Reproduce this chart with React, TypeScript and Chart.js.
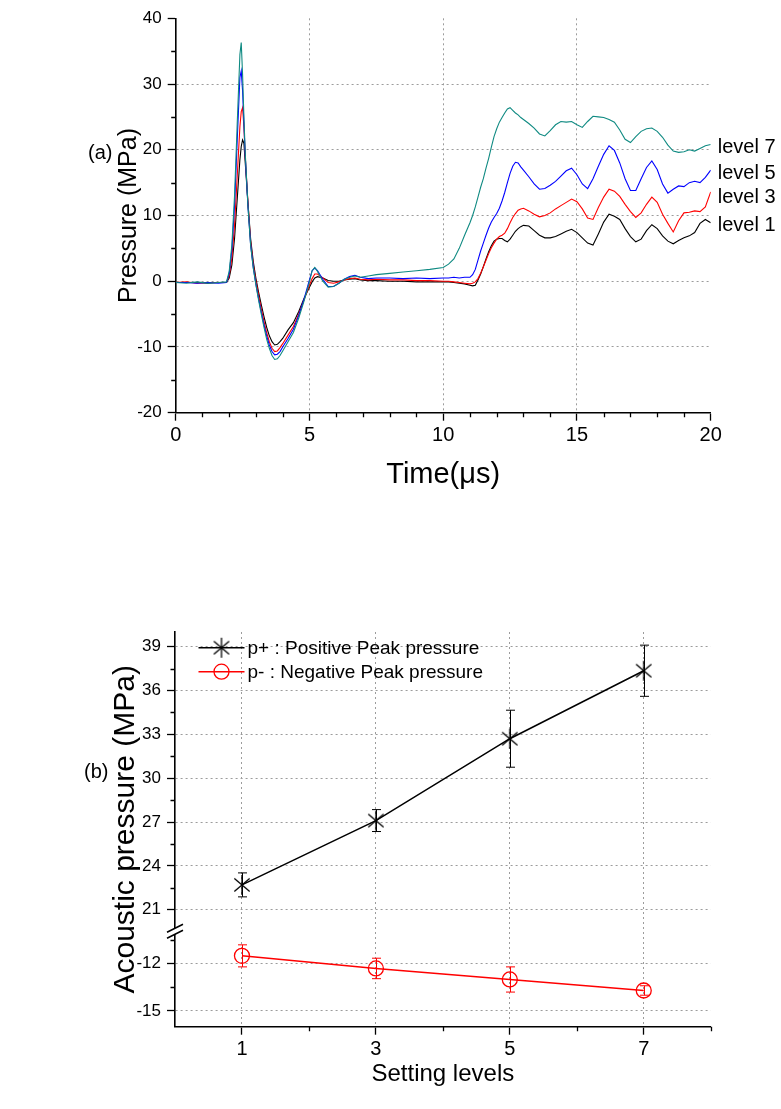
import React, { useEffect, useRef } from 'react';
import { Chart, registerables } from 'chart.js';

Chart.register(...registerables);

const FONT = "'Liberation Sans', Arial, Helvetica, sans-serif";
const GRID = '#9c9c9c';
const GRID_DASH = [2, 3];
const TEAL = '#0f8a82';

// ---------------- Panel (a): pressure waveforms ----------------
const timeUs = [
  0, 0.4, 0.8, 1.2, 1.6, 1.9,
  2.0, 2.1, 2.2, 2.3, 2.4, 2.45, 2.5, 2.55, 2.6, 2.7, 2.8, 2.9, 3.0, 3.1, 3.2, 3.3, 3.4, 3.5, 3.6, 3.7, 3.8, 3.9, 4.0,
  4.2, 4.4, 4.6, 4.8, 5.0, 5.1, 5.2, 5.3, 5.5, 5.7, 5.9, 6.1, 6.3, 6.5, 6.7, 6.9, 7.2, 7.5,
  8.0, 8.5, 9.0, 9.5, 10.0,
  10.2, 10.4, 10.6, 10.8, 11.0, 11.1, 11.2, 11.3, 11.4, 11.5, 11.6, 11.7, 11.8, 11.9, 12.0, 12.1, 12.2, 12.3, 12.4, 12.5,
  12.6, 12.7, 12.8, 12.9, 13.0,
  13.2, 13.4, 13.6, 13.8, 14.0, 14.2, 14.4, 14.6, 14.8, 15.0, 15.2, 15.4, 15.6, 15.8, 16.0, 16.2, 16.4, 16.6, 16.8, 17.0,
  17.2, 17.4, 17.6, 17.8, 18.0, 18.2, 18.4, 18.6, 18.8, 19.0, 19.2, 19.4, 19.6, 19.8, 20.0,
];

const level7 = [
  -0.2, -0.3, -0.1, -0.3, -0.2, -0.1,
  1.5, 5.5, 13.0, 24.0, 34.5, 36.3, 31.5, 25.0, 19.5, 11.5, 5.5, 2.0, -0.6, -2.9, -5.0, -7.0, -8.8, -10.2, -11.3, -11.9, -11.8, -11.3, -10.6,
  -9.2, -7.8, -5.6, -3.0, -0.1, 1.6, 2.1, 1.5, 0.0, -0.9, -0.8, -0.3, 0.3, 0.6, 0.8, 0.6, 0.8, 1.0,
  1.2, 1.4, 1.6, 1.8, 2.1,
  2.6, 3.4, 5.0, 7.0, 8.9, 10.0, 11.3, 12.8, 14.3, 15.6, 17.2, 18.7, 20.4, 22.0, 23.2, 24.2, 24.9, 25.6, 26.2, 26.4,
  26.0, 25.6, 25.3, 24.9, 24.6,
  24.0, 23.3, 22.4, 22.1, 22.9, 23.8, 24.3, 24.2, 24.3, 23.8, 23.4, 24.3, 25.1, 25.0, 24.9, 24.6, 24.2, 23.0, 21.6, 21.1,
  22.0, 22.8, 23.2, 23.3, 22.8, 21.9, 20.7, 19.8, 19.6, 19.7, 20.0, 19.8, 20.2, 20.6, 20.8,
];

const level5 = [
  -0.2, -0.2, -0.3, -0.2, -0.3, -0.2,
  1.2, 4.8, 11.5, 21.5, 31.0, 32.0, 29.0, 24.0, 19.0, 11.5, 5.6, 2.1, -0.5, -2.7, -4.7, -6.6, -8.3, -9.7, -10.7, -11.2, -11.1, -10.7, -10.0,
  -8.7, -7.3, -5.2, -2.7, 0.2, 1.6, 2.0, 1.6, 0.3, -0.8, -0.8, -0.3, 0.3, 0.7, 0.9, 0.6, 0.4, 0.5,
  0.5, 0.4, 0.5, 0.4, 0.5,
  0.5, 0.6, 0.5, 0.6, 0.6, 1.0, 1.8, 3.2, 4.6, 5.8, 7.0, 8.1, 9.0, 9.7, 10.3, 11.1, 12.2, 13.5, 15.0, 16.4,
  17.5, 18.1, 18.0, 17.4, 16.9,
  15.9, 14.8, 14.0, 14.1, 14.6, 15.2, 16.0, 16.8, 17.2, 16.2, 14.8, 14.1, 15.6, 17.5, 19.3, 20.6, 19.9, 18.0, 15.6, 13.8,
  13.8, 15.6, 17.3, 18.3, 17.0, 14.8, 13.4, 14.0, 14.5, 14.4, 15.0, 15.2, 15.0, 15.8, 16.9,
];

const level3 = [
  -0.2, -0.1, -0.3, -0.2, -0.2, -0.2,
  0.8, 3.5, 8.5, 16.0, 23.5, 25.8, 26.4, 23.5, 19.0, 12.0, 6.0, 2.5, 0.0, -2.2, -4.2, -6.1, -7.8, -9.2, -10.2, -10.7, -10.6, -10.1, -9.5,
  -8.2, -6.9, -5.0, -2.8, -0.6, 0.4, 1.1, 1.1, 0.5, -0.2, -0.3, -0.1, 0.2, 0.4, 0.5, 0.3, 0.2, 0.3,
  0.2, 0.2, 0.1, 0.1, 0.0,
  0.0, -0.1, -0.2, -0.3, -0.4, -0.3, -0.1, 0.4, 1.2, 2.2, 3.2, 4.2, 5.1, 5.8, 6.4, 6.8, 7.0, 7.3, 8.0, 8.9,
  9.7, 10.3, 10.8, 11.0, 11.1,
  10.7, 10.2, 9.8, 10.0, 10.4, 11.0, 11.5, 12.0, 12.5, 12.1, 11.0, 9.6, 9.4, 11.2, 12.8, 14.0, 13.7, 12.9, 11.7, 10.6,
  9.7, 10.4, 11.7, 12.8, 12.0, 10.2, 8.8, 7.5, 9.2, 10.4, 10.5, 10.7, 10.6, 11.3, 13.6,
];

const level1 = [
  -0.2, -0.2, -0.2, -0.3, -0.2, -0.2,
  0.5, 2.5, 6.5, 12.5, 18.5, 20.5, 21.5, 21.0, 18.0, 12.0, 6.5, 3.0, 0.4, -1.7, -3.6, -5.4, -7.0, -8.3, -9.2, -9.7, -9.6, -9.2, -8.7,
  -7.4, -6.3, -4.6, -2.6, -0.9, -0.1, 0.5, 0.7, 0.5, 0.1, 0.0, 0.0, 0.2, 0.3, 0.4, 0.2, 0.1, 0.1,
  0.0, 0.0, -0.1, -0.1, -0.1,
  -0.1, -0.2, -0.3, -0.4, -0.6, -0.7, -0.6, 0.2, 1.1, 2.2, 3.4, 4.5, 5.4, 6.1, 6.4, 6.5, 6.5, 6.2, 6.0, 6.4,
  7.0, 7.6, 8.0, 8.3, 8.5,
  8.4, 7.7, 7.0, 6.6, 6.6, 6.8, 7.2, 7.6, 7.9, 7.4, 6.6, 5.8, 5.5, 7.2, 9.0, 10.2, 9.9, 9.4, 8.0, 6.8,
  6.0, 6.4, 7.7, 8.6, 8.0, 6.9, 6.1, 5.7, 6.2, 6.6, 6.9, 7.4, 8.8, 9.4, 8.9,
];

const levelNames = ['level 7', 'level 5', 'level 3', 'level 1'];
const levelLabelAnchor = [20.3, 16.4, 12.8, 8.5]; // MPa where each end label sits
const timeTicks = [0, 5, 10, 15, 20];
const timeMinorTicks = [1, 2, 3, 4, 6, 7, 8, 9, 11, 12, 13, 14, 16, 17, 18, 19];
const pressureTicks = [-20, -10, 0, 10, 20, 30, 40];
const pressureMinorTicks = [-15, -5, 5, 15, 25, 35];

// ---------------- Panel (b): peak pressures ----------------
const settingLevels = [1, 3, 5, 7];
const positivePeak = [22.7, 27.1, 32.7, 37.35];
const positiveErr = [0.82, 0.75, 1.95, 1.75];
const negativePeak = [-11.5, -12.3, -13.0, -13.7];
const negativeErr = [0.7, 0.65, 0.8, 0.3];
const levelTicks = [1, 3, 5, 7];
const levelMinorTicks = [2, 4, 6, 8];
const upperTicks = [21, 24, 27, 30, 33, 36, 39];
const upperMinorTicks = [22.5, 25.5, 28.5, 31.5, 34.5, 37.5];
const lowerTicks = [-15, -12];
const lowerMinorTicks = [-13.5, -10.5];

// broken-axis mapping (lower segment -16..-10, upper segment 19.6..40)
const LOWER_MIN = -16;
const LOWER_MAX = -10;
const LOWER_STRETCH = 1.077;
const UPPER_MIN = 19.6;
const UPPER_MAX = 40;
const BREAK_GAP = 0.14;
const LOWER_SPAN = (LOWER_MAX - LOWER_MIN) * LOWER_STRETCH;
const toAxis = (v: number) =>
  v < 0 ? (v - LOWER_MIN) * LOWER_STRETCH : LOWER_SPAN + BREAK_GAP + (v - UPPER_MIN);
const AXIS_MAX = toAxis(UPPER_MAX);
const BREAK_AT = LOWER_SPAN + BREAK_GAP / 2;

const yTickDefs = [
  ...lowerTicks.map((v) => ({ d: toAxis(v), label: String(v) })),
  ...upperTicks.map((v) => ({ d: toAxis(v), label: String(v) })),
];

function minorTickPlugin(xs: number[], ys: number[], len: number) {
  return {
    id: 'minorTicks',
    afterDraw(chart: any) {
      const { ctx, chartArea } = chart;
      const sx = chart.scales.x;
      const sy = chart.scales.y;
      ctx.save();
      ctx.strokeStyle = '#000';
      ctx.lineWidth = 1.3;
      ctx.beginPath();
      for (const v of xs) {
        const px = Math.round(sx.getPixelForValue(v)) + 0.5;
        ctx.moveTo(px, chartArea.bottom);
        ctx.lineTo(px, chartArea.bottom + len);
      }
      for (const v of ys) {
        const py = Math.round(sy.getPixelForValue(v)) + 0.5;
        ctx.moveTo(chartArea.left, py);
        ctx.lineTo(chartArea.left - len, py);
      }
      ctx.stroke();
      ctx.restore();
    },
  };
}

function makeAsterisk(color: string) {
  const size = 24;
  const c = document.createElement('canvas');
  c.width = size;
  c.height = size;
  const g = c.getContext('2d')!;
  g.translate(size / 2, size / 2);
  g.strokeStyle = color;
  g.lineWidth = 1.3;
  const r = 10;
  for (const deg of [90, 40, -40]) {
    const a = (deg * Math.PI) / 180;
    g.beginPath();
    g.moveTo(-r * Math.cos(a), -r * Math.sin(a));
    g.lineTo(r * Math.cos(a), r * Math.sin(a));
    g.stroke();
  }
  return c;
}

function PanelA() {
  const ref = useRef<HTMLCanvasElement>(null);
  useEffect(() => {
    const series = [
      { label: levelNames[0], values: level7, color: TEAL },
      { label: levelNames[1], values: level5, color: '#0000ff' },
      { label: levelNames[2], values: level3, color: '#ff0000' },
      { label: levelNames[3], values: level1, color: '#000000' },
    ];
    const endLabels = {
      id: 'endLabels',
      afterDraw(chart: any) {
        const { ctx } = chart;
        const sx = chart.scales.x;
        const sy = chart.scales.y;
        ctx.save();
        ctx.font = `20px ${FONT}`;
        ctx.fillStyle = '#000';
        ctx.textBaseline = 'middle';
        ctx.textAlign = 'left';
        levelNames.forEach((name, i) => {
          ctx.fillText(name, sx.getPixelForValue(20) + 7, sy.getPixelForValue(levelLabelAnchor[i]));
        });
        ctx.restore();
      },
    };
    const chart = new Chart(ref.current!, {
      type: 'line',
      data: {
        datasets: series.map((s) => ({
          label: s.label,
          data: timeUs.map((t, i) => ({ x: t, y: s.values[i] })),
          borderColor: s.color,
          borderWidth: 1.1,
          pointRadius: 0,
          tension: 0,
          fill: false,
        })),
      },
      options: {
        responsive: false,
        animation: false,
        events: [],
        layout: { padding: { left: 114, top: 18.3, right: 70.3, bottom: 7.6 } },
        plugins: { legend: { display: false }, tooltip: { enabled: false } },
        scales: {
          x: {
            type: 'linear',
            min: 0,
            max: 20,
            afterBuildTicks: (s: any) => {
              s.ticks = timeTicks.map((v) => ({ value: v }));
            },
            afterFit: (s: any) => {
              s.height = 79.7;
            },
            ticks: {
              font: { family: FONT, size: 20 },
              color: '#000',
              padding: 3,
              maxRotation: 0,
              autoSkip: false,
              callback: (v: any) => String(v),
            },
            grid: {
              color: (c: any) =>
                c.tick && (c.tick.value === 0 || c.tick.value === 20) ? 'rgba(0,0,0,0)' : GRID,
              lineWidth: 1,
              tickLength: 8,
              tickColor: '#000',
              tickWidth: 1.3,
            },
            border: { display: true, color: '#000', width: 1.6, dash: GRID_DASH },
            title: {
              display: true,
              text: 'Time(μs)',
              font: { family: FONT, size: 29 },
              color: '#000',
              padding: 0,
            },
          },
          y: {
            type: 'linear',
            min: -20,
            max: 40,
            afterBuildTicks: (s: any) => {
              s.ticks = pressureTicks.map((v) => ({ value: v }));
            },
            afterFit: (s: any) => {
              s.width = 61.7;
            },
            ticks: {
              font: { family: FONT, size: 17 },
              color: '#000',
              padding: 6,
              autoSkip: false,
              callback: (v: any) => String(v),
            },
            grid: {
              color: (c: any) =>
                c.tick && (c.tick.value === -20 || c.tick.value === 40) ? 'rgba(0,0,0,0)' : GRID,
              lineWidth: 1,
              tickLength: 8,
              tickColor: '#000',
              tickWidth: 1.3,
            },
            border: { display: true, color: '#000', width: 1.6, dash: GRID_DASH },
            title: {
              display: true,
              text: 'Pressure (MPa)',
              font: { family: FONT, size: 25 },
              color: '#000',
              padding: 0,
            },
          },
        },
      } as any,
      plugins: [minorTickPlugin(timeMinorTicks, pressureMinorTicks, 4.5), endLabels],
    });
    return () => chart.destroy();
  }, []);
  return (
    <canvas ref={ref} width={781} height={500} style={{ position: 'absolute', left: 0, top: 0 }} />
  );
}

function PanelB() {
  const ref = useRef<HTMLCanvasElement>(null);
  useEffect(() => {
    const star = makeAsterisk('#000');
    const series = [
      {
        label: 'p+ : Positive Peak pressure',
        values: positivePeak,
        errors: positiveErr,
        color: '#000000',
        pointStyle: star as any,
        radius: 10,
      },
      {
        label: 'p- : Negative Peak pressure',
        values: negativePeak,
        errors: negativeErr,
        color: '#ff0000',
        pointStyle: 'circle',
        radius: 7.5,
      },
    ];

    const errorBars = {
      id: 'errorBars',
      beforeDatasetsDraw(chart: any) {
        const { ctx } = chart;
        const sy = chart.scales.y;
        ctx.save();
        ctx.lineWidth = 1;
        series.forEach((s, di) => {
          const meta = chart.getDatasetMeta(di);
          ctx.strokeStyle = s.color;
          meta.data.forEach((pt: any, i: number) => {
            const top = sy.getPixelForValue(toAxis(s.values[i] + s.errors[i]));
            const bot = sy.getPixelForValue(toAxis(s.values[i] - s.errors[i]));
            const x = Math.round(pt.x) + 0.5;
            ctx.beginPath();
            ctx.moveTo(x, top);
            ctx.lineTo(x, bot);
            ctx.moveTo(x - 4.5, top);
            ctx.lineTo(x + 4.5, top);
            ctx.moveTo(x - 4.5, bot);
            ctx.lineTo(x + 4.5, bot);
            ctx.stroke();
          });
        });
        ctx.restore();
      },
    };

    const legendBox = {
      id: 'legendBox',
      afterDraw(chart: any) {
        const { ctx, chartArea } = chart;
        ctx.save();
        series.forEach((s, i) => {
          const y = chartArea.top + 15.7 + i * 24;
          const x0 = chartArea.left + 23.5;
          const x1 = x0 + 46;
          const cx = (x0 + x1) / 2;
          ctx.strokeStyle = s.color;
          ctx.lineWidth = 1.5;
          ctx.beginPath();
          ctx.moveTo(x0, y);
          ctx.lineTo(x1, y);
          ctx.stroke();
          if (s.pointStyle === 'circle') {
            ctx.lineWidth = 1.3;
            ctx.beginPath();
            ctx.arc(cx, y, s.radius, 0, Math.PI * 2);
            ctx.stroke();
          } else {
            ctx.drawImage(star, cx - star.width / 2, y - star.height / 2);
          }
          ctx.fillStyle = '#000';
          ctx.font = `19px ${FONT}`;
          ctx.textBaseline = 'middle';
          ctx.textAlign = 'left';
          ctx.fillText(s.label, x1 + 3, y + 1);
        });
        ctx.restore();
      },
    };

    const axisBreak = {
      id: 'axisBreak',
      afterDraw(chart: any) {
        const { ctx, chartArea } = chart;
        const y = chart.scales.y.getPixelForValue(BREAK_AT);
        const x = chartArea.left;
        ctx.save();
        ctx.clearRect(x - 3, y - 3, 6, 6);
        ctx.strokeStyle = '#000';
        ctx.lineWidth = 1.5;
        ctx.beginPath();
        for (const off of [-3, 3]) {
          ctx.moveTo(x - 8, y + off + 4);
          ctx.lineTo(x + 8, y + off - 4);
        }
        ctx.stroke();
        ctx.restore();
      },
    };

    const chart = new Chart(ref.current!, {
      type: 'line',
      data: {
        datasets: series.map((s) => ({
          label: s.label,
          data: settingLevels.map((x, i) => ({ x, y: toAxis(s.values[i]) })),
          borderColor: s.color,
          borderWidth: 1.5,
          pointStyle: s.pointStyle,
          pointRadius: s.radius,
          pointBorderColor: s.color,
          pointBorderWidth: 1.3,
          pointBackgroundColor: 'rgba(0,0,0,0)',
          backgroundColor: 'rgba(0,0,0,0)',
          tension: 0,
          fill: false,
        })),
      },
      options: {
        responsive: false,
        animation: false,
        events: [],
        layout: { padding: { left: 108, top: 92, right: 70.3, bottom: 20.6 } },
        plugins: { legend: { display: false }, tooltip: { enabled: false } },
        scales: {
          x: {
            type: 'linear',
            min: 0,
            max: 8,
            afterBuildTicks: (s: any) => {
              s.ticks = levelTicks.map((v) => ({ value: v }));
            },
            afterFit: (s: any) => {
              s.height = 61.7;
            },
            ticks: {
              font: { family: FONT, size: 20 },
              color: '#000',
              padding: 3,
              maxRotation: 0,
              autoSkip: false,
              callback: (v: any) => String(v),
            },
            grid: {
              color: GRID,
              lineWidth: 1,
              tickLength: 8,
              tickColor: '#000',
              tickWidth: 1.3,
            },
            border: { display: true, color: '#000', width: 1.6, dash: GRID_DASH },
            title: {
              display: true,
              text: 'Setting levels',
              font: { family: FONT, size: 24 },
              color: '#000',
              padding: 0,
            },
          },
          y: {
            type: 'linear',
            min: 0,
            max: AXIS_MAX,
            afterBuildTicks: (s: any) => {
              s.ticks = yTickDefs.map((t) => ({ value: t.d }));
            },
            afterFit: (s: any) => {
              s.width = 67;
            },
            ticks: {
              font: { family: FONT, size: 17 },
              color: '#000',
              padding: 6,
              autoSkip: false,
              callback: (_v: any, i: number) => yTickDefs[i].label,
            },
            grid: {
              color: GRID,
              lineWidth: 1,
              tickLength: 8,
              tickColor: '#000',
              tickWidth: 1.3,
            },
            border: { display: true, color: '#000', width: 1.6, dash: GRID_DASH },
            title: {
              display: true,
              text: 'Acoustic pressure (MPa)',
              font: { family: FONT, size: 30 },
              color: '#000',
              padding: 0,
            },
          },
        },
      } as any,
      plugins: [
        minorTickPlugin(
          levelMinorTicks,
          [...lowerMinorTicks, ...upperMinorTicks].map(toAxis),
          4.5,
        ),
        errorBars,
        legendBox,
        axisBreak,
      ],
    });
    return () => chart.destroy();
  }, []);
  return (
    <canvas ref={ref} width={781} height={569} style={{ position: 'absolute', left: 0, top: 540 }} />
  );
}

const panelTag: React.CSSProperties = {
  position: 'absolute',
  fontFamily: FONT,
  fontSize: 20,
  lineHeight: '24px',
  color: '#000',
};

export default function App() {
  return (
    <div>
      <PanelA />
      <PanelB />
      <div style={{ ...panelTag, left: 88, top: 140 }}>(a)</div>
      <div style={{ ...panelTag, left: 84, top: 759 }}>(b)</div>
    </div>
  );
}
